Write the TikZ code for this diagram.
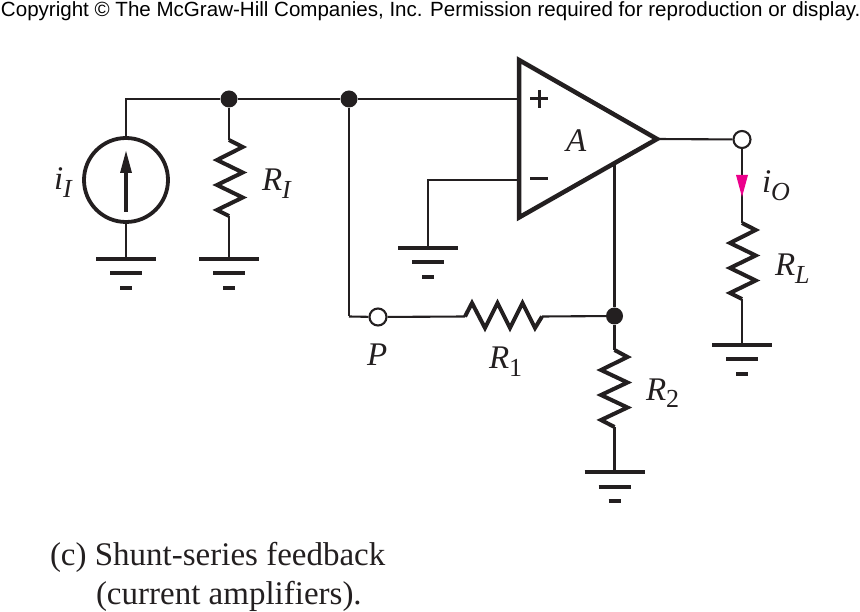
\documentclass[tikz,border=0pt]{standalone}
\usepackage{fontspec}
\setmainfont{Liberation Serif}
\newfontfamily\hdrfont{Liberation Sans}
\definecolor{ink}{HTML}{231F20}
\definecolor{mag}{HTML}{EC008C}
\newcommand{\lbl}[2]{\fontsize{33}{33}\selectfont\itshape #1\raisebox{-8pt}{\fontsize{26}{26}\selectfont #2}}
\newcommand{\lblup}[2]{\fontsize{33}{33}\selectfont\itshape #1\raisebox{-8pt}{\fontsize{26}{26}\selectfont\upshape #2}}
\tikzset{
  wire/.style={draw=ink,line width=2.1pt},
  res/.style={draw=ink,line width=4pt,line join=miter,miter limit=10},
  gbar/.style={draw=ink,line width=4pt},
  dotn/.style={circle,fill=ink,draw=none,minimum size=17pt,inner sep=0pt},
  opent/.style={circle,fill=white,draw=ink,line width=2.1pt,minimum size=17pt,inner sep=0pt},
  txt/.style={inner sep=0pt,outer sep=0pt,anchor=base west,text=ink},
  captxt/.style={txt,font=\fontsize{33}{33}\selectfont},
  sgn/.style={draw=ink,line width=3pt},
}
\begin{document}
\begin{tikzpicture}[x=1pt,y=-1pt]
\useasboundingbox (0,0) rectangle (860,612);
\fill[white] (0,0) rectangle (860,612);
% named points
\coordinate (tl) at (126,99);
\coordinate (srcb) at (126,259);
\coordinate (inp) at (519,99);
\coordinate (inm) at (519,180);
\coordinate (gm) at (428,180);
\coordinate (gmb) at (428,248);
\coordinate (fbc) at (349,316.5);
\coordinate (tout) at (657,139);
\coordinate (ptop) at (614.5,165);
\coordinate (rit) at (229,140);
\coordinate (rib) at (229,216);
\coordinate (gi) at (229,259);
\coordinate (rlt) at (742,223);
\coordinate (rlb) at (742,299);
\coordinate (gl) at (742,345);
\coordinate (r1l) at (465,316.5);
\coordinate (r1r) at (542,316.5);
\coordinate (r2t) at (614.5,350);
\coordinate (r2b) at (614.5,427);
\coordinate (g2) at (614.5,472);
\node[dotn] (d1) at (229,99) {};
\node[dotn] (d2) at (349,99) {};
\node[dotn] (d3) at (614.5,316) {};
\node[circle,minimum size=86pt,inner sep=0pt] (src) at (126,180) {};
% wires
\draw[wire] (src.north) -- (tl) -- (d1) -- (d2) -- (inp);
\draw[wire] (src.south) -- (srcb);
\draw[wire] (d1) -- (rit);
\draw[wire] (rib) -- (gi);
\draw[wire] (inm) -- (gm) -- (gmb);
\draw[wire] (d2) -- (fbc);
\draw[wire] (ptop) -- (d3);
\draw[wire] (d3) -- (r2t);
\draw[wire] (r2b) -- (g2);
\draw[wire] (r1r) -- (d3);
\draw[wire] (rlb) -- (gl);
\node[opent] (o) at (742,139.5) {};
\node[opent] (p) at (378,317) {};
\draw[wire] (fbc) -- (p);
\draw[wire] (p) -- (r1l);
\draw[wire] (tout) -- (o);
\draw[wire] (o) -- (rlt);
% source
\draw[draw=ink,line width=3.8pt] (src.center) circle[radius=42];
\draw[draw=ink,line width=4pt] (126,212) -- (126,172);
\fill[ink] (126,151) -- (132,173) -- (120,173) -- cycle;
% op amp
\draw[draw=ink,line width=4.5pt,line join=miter,fill=none] (519,60) -- (tout) -- (519,217.5) -- cycle;
\draw[sgn] (530,99) -- (548,99) (539,90) -- (539,108);
\draw[sgn] (530,179) -- (548,179);
\node[txt] (A) at (566,152) {\fontsize{33}{33}\selectfont\itshape A};
% resistors
\draw[res] (rit) -- (242.7,147) -- (217,160) -- (242.7,172.5) -- (217,185) -- (242.7,197.5) -- (217,210) -- (rib);
\draw[res] (rlt) -- (755.7,230) -- (730,243) -- (755.7,255.5) -- (730,268) -- (755.7,280.5) -- (730,293) -- (rlb);
\draw[res] (r2t) -- (627.5,357) -- (601,370) -- (627.5,382.5) -- (601,395) -- (627.5,407.5) -- (601,420) -- (r2b);
\draw[res] (r1l) -- (472,303) -- (485,328) -- (497.5,303) -- (510,328) -- (522.5,303) -- (535,328) -- (r1r);
% grounds
\foreach \g in {srcb,gi,gmb,gl,g2}{
  \draw[gbar] ([xshift=-30pt]\g) -- ([xshift=30pt]\g);
  \draw[gbar] ([xshift=-16pt,yshift=-14.5pt]\g) -- ([xshift=16pt,yshift=-14.5pt]\g);
  \draw[gbar] ([xshift=-6pt,yshift=-29pt]\g) -- ([xshift=6pt,yshift=-29pt]\g);
}
% current arrow
\fill[mag] (736,175) -- (748,175) -- (742,197) -- cycle;
% labels
\node[txt] (liI) at (54,190) {\lbl{i}{I}};
\node[txt] (lRI) at (262,191) {\lbl{R}{I}};
\node[txt] (liO) at (762,193) {\lbl{i}{O}};
\node[txt] (lRL) at (775,276) {\lbl{R}{L}};
\node[txt] (lP) at (367,366) {\fontsize{33}{33}\selectfont\itshape P};
\node[txt] (lR1) at (489,369) {\lblup{R}{1}};
\node[txt] (lR2) at (646,400) {\lblup{R}{2}};
\node[txt,font=\hdrfont\fontsize{20.55}{21}\selectfont,text=black] (hdr) at (1,17) {Copyright © The McGraw-Hill Companies, Inc. Permission required for reproduction or display.};
\node[captxt] (c1) at (50,565) {(c) Shunt-series feedback};
\node[captxt] (c2) at (96,604) {(current amplifiers).};
\end{tikzpicture}
\end{document}
